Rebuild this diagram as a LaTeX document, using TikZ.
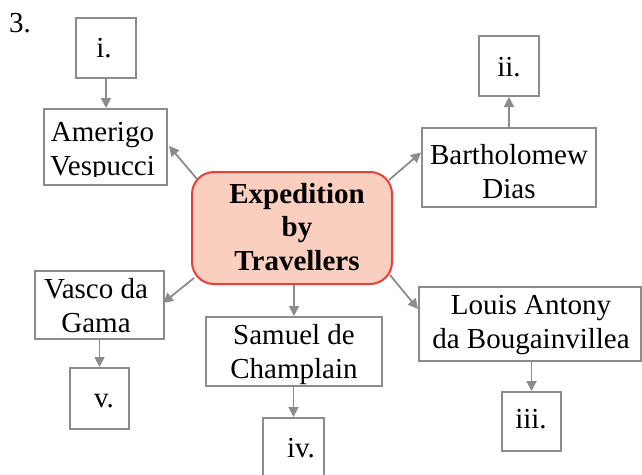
\documentclass[tikz,border=0pt]{standalone}
\usepackage{fontspec}
\setmainfont{Liberation Serif}
\usetikzlibrary{arrows.meta,calc}
\definecolor{boxgray}{HTML}{8C8C8E}
\definecolor{ctrfill}{HTML}{FBCFBF}
\definecolor{ctrdraw}{HTML}{E8403A}
\tikzset{
  box/.style={draw=boxgray,line width=2pt,rectangle,inner sep=0pt},
  ctrbox/.style={draw=ctrdraw,fill=ctrfill,line width=2pt,rectangle,rounded corners=22pt,inner sep=0pt},
  txt/.style={anchor=base,align=center,inner sep=0pt,font=\fontsize{29}{33.5}\selectfont},
  btxt/.style={txt,font=\fontsize{29}{33.5}\selectfont\bfseries},
  conn/.style={draw=boxgray,line width=1.8pt,-{Triangle[length=10pt,width=10pt]}}
}
\begin{document}
\begin{tikzpicture}[x=1pt,y=-1pt]
\clip (0,0) rectangle (642,474);
\fill[white] (0,0) rectangle (642,474);
% boxes
\node[box,minimum width=60pt,minimum height=60pt] (i) at (106,48) {};
\node[box,minimum width=123pt,minimum height=76pt] (amerigo) at (105.5,147) {};
\node[box,minimum width=60pt,minimum height=60pt] (ii) at (509,66) {};
\node[box,minimum width=174pt,minimum height=79pt] (bart) at (509,167.5) {};
\node[ctrbox,minimum width=200pt,minimum height=112pt] (ctr) at (292,228) {};
\node[box,minimum width=129pt,minimum height=68pt] (vasco) at (99.5,305) {};
\node[box,minimum width=59pt,minimum height=61pt] (v) at (99.5,398.5) {};
\node[box,minimum width=176pt,minimum height=69pt] (samuel) at (294,351.5) {};
\node[box,minimum width=61pt,minimum height=80pt] (iv) at (293.5,458) {};
\node[box,minimum width=222pt,minimum height=74pt] (louis) at (530,324) {};
\node[box,minimum width=59pt,minimum height=59pt] (iii) at (531.5,421.5) {};
% texts (base anchor = baseline of last line)
\node[txt,anchor=base west] (num) at (9,32) {3.};
\node[txt] (ti) at (104,57) {i.};
\begin{scope}
\clip (40,100) rectangle (170,176.5);
\node[txt] (tamerigo) at (102.5,175) {Amerigo\\Vespucci};
\end{scope}
\node[txt] (tii) at (509,76) {ii.};
\node[txt] (tbart) at (509,198) {Bartholomew\\Dias};
\node[btxt] (tctr) at (297,270) {Expedition\\by\\Travellers};
\node[txt] (tvasco) at (96,332) {Vasco da\\Gama};
\node[txt] (tv) at (104,407) {v.};
\node[txt] (tsamuel) at (294,378) {Samuel de\\Champlain};
\node[txt] (tiv) at (301,457) {iv.};
\node[txt] (tlouis) at (531,348) {Louis Antony\\da Bougainvillea};
\node[txt] (tiii) at (531,428) {iii.};
% connectors
\draw[conn] (i.south) -- (i.south |- amerigo.north);
\draw[conn] (bart.north) -- (ii.south);
\draw[conn] (vasco.south) -- (v.north);
\draw[conn] (samuel.south -| iv.north) -- (iv.north);
\draw[conn] (louis.south -| iii.north) -- (iii.north);
\draw[conn] (ctr.south -| samuel.north) -- (samuel.north);
\draw[conn] ($(ctr.north west)+(6,8)$) -- ($(amerigo.east)+(1,-1)$);
\draw[conn] ($(ctr.north east)+(-4,9)$) -- ($(bart.west)+(0,-15)$);
\draw[conn] ($(ctr.south west)+(3,-7)$) -- ($(vasco.east)+(-2,-2)$);
\draw[conn] ($(ctr.south east)+(-3,-10)$) -- ($(louis.west)+(0,-15)$);
\end{tikzpicture}
\end{document}
